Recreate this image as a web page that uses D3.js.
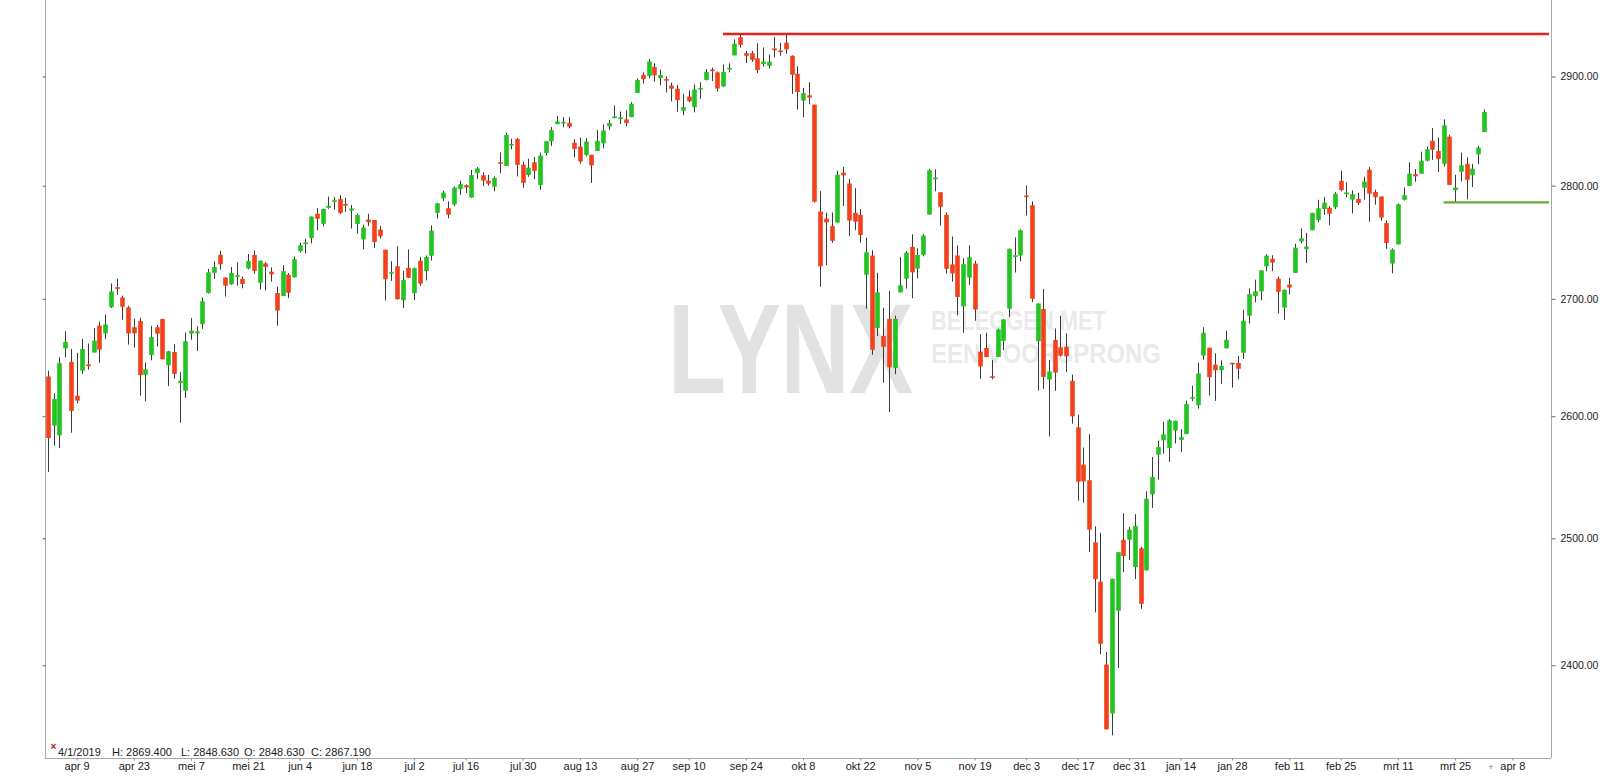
<!DOCTYPE html>
<html><head><meta charset="utf-8">
<script src="https://cdn.jsdelivr.net/npm/d3@7/dist/d3.min.js"></script>
<style>
html,body{margin:0;padding:0;background:#fff;}
svg{display:block;}
text{font-family:"Liberation Sans",Arial,sans-serif;}
</style></head><body>
<svg id="c" width="1600" height="776"></svg>
<script>
// ---- DATA ----
const dates = [
"2018-04-02","2018-04-03","2018-04-04","2018-04-05","2018-04-06","2018-04-09","2018-04-10","2018-04-11","2018-04-12","2018-04-13","2018-04-16","2018-04-17","2018-04-18","2018-04-19","2018-04-20","2018-04-23","2018-04-24","2018-04-25","2018-04-26","2018-04-27","2018-04-30",
"2018-05-01","2018-05-02","2018-05-03","2018-05-04","2018-05-07","2018-05-08","2018-05-09","2018-05-10","2018-05-11","2018-05-14","2018-05-15","2018-05-16","2018-05-17","2018-05-18","2018-05-21","2018-05-22","2018-05-23","2018-05-24","2018-05-25","2018-05-29","2018-05-30","2018-05-31",
"2018-06-01","2018-06-04","2018-06-05","2018-06-06","2018-06-07","2018-06-08","2018-06-11","2018-06-12","2018-06-13","2018-06-14","2018-06-15","2018-06-18","2018-06-19","2018-06-20","2018-06-21","2018-06-22","2018-06-25","2018-06-26","2018-06-27","2018-06-28","2018-06-29",
"2018-07-02","2018-07-03","2018-07-05","2018-07-06","2018-07-09","2018-07-10","2018-07-11","2018-07-12","2018-07-13","2018-07-16","2018-07-17","2018-07-18","2018-07-19","2018-07-20","2018-07-23","2018-07-24","2018-07-25","2018-07-26","2018-07-27","2018-07-30","2018-07-31",
"2018-08-01","2018-08-02","2018-08-03","2018-08-06","2018-08-07","2018-08-08","2018-08-09","2018-08-10","2018-08-13","2018-08-14","2018-08-15","2018-08-16","2018-08-17","2018-08-20","2018-08-21","2018-08-22","2018-08-23","2018-08-24","2018-08-27","2018-08-28","2018-08-29","2018-08-30","2018-08-31",
"2018-09-04","2018-09-05","2018-09-06","2018-09-07","2018-09-10","2018-09-11","2018-09-12","2018-09-13","2018-09-14","2018-09-17","2018-09-18","2018-09-19","2018-09-20","2018-09-21","2018-09-24","2018-09-25","2018-09-26","2018-09-27","2018-09-28",
"2018-10-01","2018-10-02","2018-10-03","2018-10-04","2018-10-05","2018-10-08","2018-10-09","2018-10-10","2018-10-11","2018-10-12","2018-10-15","2018-10-16","2018-10-17","2018-10-18","2018-10-19","2018-10-22","2018-10-23","2018-10-24","2018-10-25","2018-10-26","2018-10-29","2018-10-30","2018-10-31",
"2018-11-01","2018-11-02","2018-11-05","2018-11-06","2018-11-07","2018-11-08","2018-11-09","2018-11-12","2018-11-13","2018-11-14","2018-11-15","2018-11-16","2018-11-19","2018-11-20","2018-11-21","2018-11-23","2018-11-26","2018-11-27","2018-11-28","2018-11-29","2018-11-30",
"2018-12-03","2018-12-04","2018-12-06","2018-12-07","2018-12-10","2018-12-11","2018-12-12","2018-12-13","2018-12-14","2018-12-17","2018-12-18","2018-12-19","2018-12-20","2018-12-21","2018-12-24","2018-12-26","2018-12-27","2018-12-28","2018-12-31",
"2019-01-02","2019-01-03","2019-01-04","2019-01-07","2019-01-08","2019-01-09","2019-01-10","2019-01-11","2019-01-14","2019-01-15","2019-01-16","2019-01-17","2019-01-18","2019-01-22","2019-01-23","2019-01-24","2019-01-25","2019-01-28","2019-01-29","2019-01-30","2019-01-31",
"2019-02-01","2019-02-04","2019-02-05","2019-02-06","2019-02-07","2019-02-08","2019-02-11","2019-02-12","2019-02-13","2019-02-14","2019-02-15","2019-02-19","2019-02-20","2019-02-21","2019-02-22","2019-02-25","2019-02-26","2019-02-27","2019-02-28",
"2019-03-01","2019-03-04","2019-03-05","2019-03-06","2019-03-07","2019-03-08","2019-03-11","2019-03-12","2019-03-13","2019-03-14","2019-03-15","2019-03-18","2019-03-19","2019-03-20","2019-03-21","2019-03-22","2019-03-25","2019-03-26","2019-03-27","2019-03-28","2019-03-29",
"2019-04-01"];

const open = [
2633.45,2592.17,2584.04,2657.36,2645.82,2617.18,2638.41,2643.71,2653.83,2676.90,2670.10,2692.74,2710.11,2701.16,2692.56,2675.40,2680.80,2634.92,2651.65,2675.47,2682.51,
2642.96,2654.24,2628.08,2621.45,2670.00,2670.26,2678.12,2705.02,2722.70,2738.47,2718.59,2712.62,2719.71,2717.35,2726.50,2738.34,2713.98,2730.94,2723.60,2705.11,2702.43,2720.98,
2718.70,2741.67,2748.46,2753.25,2774.84,2765.84,2780.18,2785.60,2787.94,2783.21,2777.78,2765.79,2752.01,2769.73,2769.28,2760.79,2742.94,2722.12,2728.45,2698.69,2727.13,
2704.95,2733.27,2724.19,2737.68,2775.62,2788.56,2779.82,2783.14,2796.93,2800.50,2789.34,2811.35,2809.37,2804.55,2799.17,2820.68,2817.73,2836.80,2842.35,2819.00,2809.73,
2821.17,2800.48,2829.62,2840.29,2855.92,2856.79,2857.19,2838.90,2835.46,2827.88,2827.95,2831.44,2838.32,2853.93,2861.51,2860.99,2860.29,2862.35,2884.69,2901.45,2900.62,2908.94,2898.37,
2896.96,2891.59,2888.64,2868.26,2881.39,2871.57,2888.29,2896.85,2906.38,2903.83,2890.74,2906.60,2919.73,2936.76,2921.83,2921.75,2916.98,2911.65,2910.03,
2926.29,2923.80,2931.69,2919.35,2902.54,2877.53,2882.51,2873.90,2776.87,2770.54,2763.83,2767.05,2811.67,2802.00,2775.66,2773.94,2721.03,2737.87,2674.88,2667.86,2682.65,2640.68,2705.60,
2717.58,2745.45,2726.37,2738.40,2774.13,2806.38,2794.10,2773.93,2730.05,2737.90,2693.52,2718.54,2730.74,2654.60,2657.74,2633.36,2649.97,2663.75,2691.45,2736.97,2737.76,
2790.50,2782.43,2663.51,2691.26,2630.86,2664.44,2658.23,2658.70,2629.68,2590.75,2559.90,2547.05,2496.77,2465.38,2400.56,2363.12,2442.50,2498.77,2498.94,
2476.96,2491.92,2474.33,2535.61,2568.11,2580.00,2573.51,2588.11,2580.31,2585.10,2614.75,2609.28,2651.27,2657.88,2643.48,2638.84,2657.44,2644.97,2644.89,2653.62,2685.49,
2702.32,2706.49,2728.34,2735.05,2717.53,2692.36,2712.40,2722.61,2750.30,2743.50,2760.24,2769.28,2779.05,2780.24,2780.67,2804.35,2792.36,2787.50,2788.11,
2798.22,2814.37,2794.41,2790.27,2766.53,2730.79,2747.61,2787.34,2799.78,2810.38,2810.79,2822.61,2840.76,2831.34,2819.72,2844.52,2796.01,2812.66,2819.72,2809.40,2828.27,
2848.63];

const high = [
2638.30,2619.14,2649.86,2672.08,2656.88,2653.55,2665.45,2661.43,2674.72,2680.26,2686.49,2713.34,2717.49,2702.84,2693.94,2682.86,2683.55,2645.30,2676.48,2677.35,2682.87,
2655.27,2660.87,2637.14,2670.93,2683.35,2676.34,2701.27,2726.11,2732.86,2742.10,2718.59,2727.76,2731.96,2719.50,2739.19,2742.24,2733.33,2731.97,2727.36,2710.67,2729.34,2722.50,
2736.93,2749.16,2752.61,2772.39,2779.90,2779.39,2790.21,2789.80,2791.47,2789.06,2782.81,2774.99,2765.05,2774.86,2769.28,2764.17,2742.94,2732.91,2746.09,2724.34,2743.26,
2727.26,2736.58,2737.83,2764.41,2784.65,2795.58,2785.91,2799.22,2804.53,2801.19,2814.19,2816.76,2812.05,2809.70,2808.61,2829.99,2848.03,2842.66,2843.17,2821.74,2824.46,
2825.83,2829.91,2840.38,2853.29,2863.43,2862.44,2862.48,2842.20,2843.40,2843.11,2827.95,2850.49,2855.63,2859.76,2873.23,2867.54,2868.78,2876.16,2898.25,2903.77,2916.50,2912.46,2906.32,
2900.18,2894.21,2892.05,2883.81,2886.93,2892.52,2894.65,2906.76,2908.30,2904.65,2911.17,2912.36,2934.80,2940.91,2923.79,2923.95,2931.15,2927.22,2920.53,
2937.06,2931.42,2939.86,2919.78,2909.64,2889.45,2894.83,2874.02,2795.14,2775.77,2775.99,2813.46,2816.94,2806.04,2797.77,2778.94,2753.59,2742.59,2722.70,2692.38,2706.85,2685.43,2736.69,
2741.67,2756.55,2744.27,2756.82,2815.15,2814.75,2794.10,2775.99,2754.60,2746.80,2735.38,2746.75,2733.16,2669.44,2670.73,2647.55,2674.35,2682.53,2744.00,2753.75,2760.88,
2800.18,2785.93,2696.15,2708.54,2647.51,2674.35,2685.44,2670.19,2635.07,2601.13,2573.99,2585.29,2509.63,2504.41,2410.34,2467.76,2489.10,2520.27,2509.24,
2519.49,2493.14,2538.07,2566.16,2579.82,2595.32,2597.82,2596.27,2589.32,2613.08,2625.76,2645.06,2675.47,2657.88,2653.19,2647.20,2672.38,2644.97,2650.93,2690.44,2708.95,
2716.66,2724.99,2738.98,2738.08,2719.32,2708.07,2718.05,2748.19,2761.85,2757.90,2775.66,2787.33,2789.88,2781.58,2794.20,2813.49,2803.12,2795.76,2793.73,
2808.02,2816.88,2796.44,2790.27,2768.98,2744.13,2784.00,2798.32,2821.24,2815.00,2830.73,2835.41,2852.42,2843.54,2860.31,2846.16,2809.79,2829.87,2825.56,2819.71,2836.03,
2869.40];

const low = [
2553.80,2575.49,2573.61,2649.58,2586.27,2610.79,2635.78,2639.25,2653.83,2645.05,2665.16,2692.05,2703.63,2681.90,2660.61,2657.99,2617.32,2612.67,2647.16,2659.01,2648.04,
2625.41,2631.70,2594.62,2615.32,2664.70,2655.20,2674.14,2704.54,2717.45,2725.47,2701.91,2712.17,2711.36,2709.18,2725.70,2721.88,2707.98,2707.38,2714.99,2676.81,2702.43,2700.68,
2718.70,2740.54,2739.51,2748.46,2760.16,2763.59,2779.26,2778.78,2774.65,2776.52,2761.73,2757.12,2743.19,2763.91,2744.39,2752.68,2698.67,2715.60,2699.38,2691.99,2718.03,
2698.95,2711.16,2716.02,2733.52,2770.73,2786.24,2770.77,2781.53,2791.69,2793.39,2789.24,2805.89,2799.77,2800.01,2795.14,2811.12,2817.73,2832.91,2808.34,2798.11,2808.06,
2805.85,2796.34,2827.37,2835.98,2855.92,2853.09,2851.98,2825.81,2819.88,2826.58,2802.49,2831.44,2833.73,2850.62,2861.32,2856.05,2854.03,2862.35,2884.69,2893.50,2898.40,2895.22,2891.73,
2885.13,2876.92,2867.29,2864.12,2875.94,2866.78,2879.20,2896.39,2895.77,2886.16,2890.43,2903.82,2919.73,2927.11,2912.63,2913.70,2903.28,2909.27,2907.50,
2917.91,2919.37,2921.36,2883.92,2869.29,2862.08,2874.27,2784.86,2710.51,2729.44,2749.03,2766.91,2781.81,2755.18,2760.27,2749.22,2691.43,2651.89,2667.84,2628.16,2603.54,2635.34,2705.60,
2708.85,2700.44,2717.94,2737.08,2774.13,2794.99,2764.24,2722.00,2714.98,2685.75,2670.75,2712.16,2681.09,2631.52,2649.82,2631.09,2649.97,2655.89,2684.38,2722.94,2732.76,
2773.38,2697.18,2621.53,2623.14,2583.23,2621.30,2650.26,2637.27,2593.84,2530.54,2528.71,2488.96,2441.18,2408.55,2351.10,2346.58,2397.94,2472.89,2482.82,
2467.47,2443.96,2474.33,2524.56,2547.56,2568.89,2562.02,2577.40,2570.41,2585.10,2612.68,2606.36,2647.58,2617.27,2612.86,2627.01,2657.33,2624.06,2631.05,2648.34,2678.65,
2696.88,2698.75,2724.03,2724.15,2687.26,2681.83,2703.79,2722.61,2748.63,2731.23,2760.24,2767.29,2774.06,2764.55,2779.11,2794.99,2789.47,2775.13,2782.51,
2787.38,2767.66,2782.97,2768.69,2743.67,2722.27,2747.61,2786.73,2799.78,2803.46,2810.79,2821.99,2823.27,2812.43,2817.38,2800.47,2785.02,2803.99,2787.72,2798.77,2819.23,
2848.63];

const close = [
2581.88,2614.45,2644.69,2662.84,2604.47,2613.16,2656.87,2642.19,2663.99,2656.30,2677.84,2706.39,2708.64,2693.13,2670.14,2670.29,2634.56,2639.40,2666.94,2669.91,2648.05,
2654.80,2635.67,2629.73,2663.42,2672.63,2671.92,2697.79,2723.07,2727.72,2730.13,2711.45,2722.46,2720.13,2712.97,2733.01,2724.44,2733.29,2727.76,2721.33,2689.86,2724.01,2705.27,
2734.62,2746.87,2748.80,2772.35,2770.37,2779.03,2782.00,2786.85,2775.63,2782.49,2779.66,2773.75,2762.59,2767.32,2749.76,2754.88,2717.07,2723.06,2699.63,2716.31,2718.37,
2726.71,2713.22,2736.61,2759.82,2784.17,2793.84,2774.02,2798.29,2801.31,2798.43,2809.55,2815.62,2804.49,2801.83,2806.98,2820.40,2846.07,2837.44,2818.82,2802.60,2816.29,
2813.36,2827.22,2840.35,2850.40,2858.45,2857.70,2853.58,2833.28,2821.93,2839.96,2818.37,2840.69,2850.13,2857.05,2862.96,2861.82,2856.98,2874.69,2896.74,2897.52,2914.04,2901.13,2901.52,
2896.72,2888.60,2878.05,2871.68,2877.13,2887.89,2888.92,2904.18,2904.98,2888.80,2904.31,2907.95,2930.75,2929.67,2919.37,2915.56,2905.97,2914.00,2913.98,
2924.59,2923.43,2925.51,2901.61,2885.57,2884.43,2880.34,2785.68,2728.37,2767.13,2750.79,2809.92,2809.21,2768.78,2767.78,2755.88,2740.69,2656.10,2705.57,2658.69,2641.25,2682.63,2711.74,
2740.37,2723.06,2738.31,2755.45,2813.89,2806.83,2781.01,2726.22,2722.18,2701.58,2730.20,2736.27,2690.73,2641.89,2649.93,2632.56,2673.45,2682.17,2743.79,2737.80,2760.17,
2790.37,2700.06,2695.95,2633.08,2637.72,2636.78,2651.07,2650.54,2599.95,2545.94,2546.16,2506.96,2467.42,2416.62,2351.10,2467.70,2488.83,2485.74,2506.85,
2510.03,2447.89,2531.94,2549.69,2574.41,2584.96,2596.64,2596.26,2582.61,2610.30,2616.10,2635.96,2670.71,2632.90,2638.70,2642.33,2664.76,2643.85,2640.00,2681.05,2704.10,
2706.53,2724.87,2737.70,2731.61,2706.05,2707.88,2709.80,2744.73,2753.03,2745.73,2775.60,2779.76,2784.70,2774.88,2792.67,2796.11,2793.90,2792.38,2784.49,
2803.69,2792.81,2789.65,2771.45,2748.93,2743.07,2783.30,2791.52,2810.92,2808.48,2822.48,2832.94,2832.57,2824.23,2854.88,2800.71,2798.36,2818.46,2805.37,2815.44,2834.40,
2867.19];

const priceTicks = [2400, 2500, 2600, 2700, 2800, 2900];
const dateTickDates = ["2018-04-09","2018-04-23","2018-05-07","2018-05-21","2018-06-04","2018-06-18","2018-07-02","2018-07-16","2018-07-30","2018-08-13","2018-08-27","2018-09-10","2018-09-24","2018-10-08","2018-10-22","2018-11-05","2018-11-19","2018-12-03","2018-12-17","2018-12-31","2019-01-14","2019-01-28","2019-02-11","2019-02-25","2019-03-11","2019-03-25","2019-04-08"];
const dateTickLabels = ["apr 9","apr 23","mei 7","mei 21","jun 4","jun 18","jul 2","jul 16","jul 30","aug 13","aug 27","sep 10","sep 24","okt 8","okt 22","nov 5","nov 19","dec 3","dec 17","dec 31","jan 14","jan 28","feb 11","feb 25","mrt 11","mrt 25","apr 8"];
const resistanceLevel = 2940, resistanceFrom = "2018-09-18";
const supportLevel = 2785, supportFrom = "2019-03-21";

// ---- CHART ----
const svg = d3.select("#c");
const P = {left: 45, right: 1551, top: 0, bottom: 758};
const x = d3.scaleLinear().domain([0, dates.length - 1]).range([48, 1483.7]);
const y = d3.scaleLog().domain([2400, 2900]).range([665.3, 76.5]);

function idxOf(ds) {
  let k = dates.indexOf(ds);
  if (k >= 0) return k;
  let d = new Date(dates[dates.length - 1] + "T12:00:00Z"), t = new Date(ds + "T12:00:00Z");
  k = dates.length - 1;
  while (d < t) { d = new Date(d.getTime() + 864e5); const wd = d.getUTCDay(); if (wd !== 0 && wd !== 6) k++; }
  return k;
}

// watermark (scaled horizontally to the narrow look of the logo)
const wm = svg.append("g").style("font-family", "'Liberation Sans Narrow','DejaVu Sans Condensed',Arial,sans-serif").style("font-weight", "bold");
function wmText(str, px, py, size, width, fill) {
  const t = wm.append("text").attr("x", 0).attr("y", 0).attr("font-size", size).attr("fill", fill).text(str);
  const w = t.node().getComputedTextLength();
  t.attr("transform", `translate(${px},${py}) scale(${width / w},1)`);
}
wmText("LYNX", 668, 393, 128, 245, "#e2e2e2");
wmText("BELEGGEN MET", 931, 330, 28, 175, "#eaeaea");
wmText("EEN VOORSPRONG", 931, 363, 28, 230, "#eaeaea");

// frame lines
svg.append("line").attr("x1", P.left + 0.5).attr("x2", P.left + 0.5).attr("y1", 0).attr("y2", P.bottom).attr("stroke", "#a8a8a8");
svg.append("line").attr("x1", P.left).attr("x2", P.right).attr("y1", P.bottom + 0.5).attr("y2", P.bottom + 0.5).attr("stroke", "#a8a8a8");

// right axis
const ra = svg.append("g").attr("transform", `translate(${P.right + 0.5},0)`)
  .call(d3.axisRight(y).tickValues(priceTicks).tickFormat(d3.format(".2f")).tickSize(4).tickPadding(5));
ra.select(".domain").attr("stroke", "#a8a8a8").attr("d", `M0,0V${P.bottom}`);
ra.selectAll(".tick line").attr("stroke", "#666");
ra.selectAll(".tick text").attr("fill", "#222").style("font-size", "10.5px").style("font-family", "'Liberation Sans',Arial,sans-serif");

// left small ticks
const la = svg.append("g").attr("transform", `translate(${P.left + 0.5},0)`)
  .call(d3.axisLeft(y).tickValues(priceTicks).tickFormat("").tickSize(3));
la.select(".domain").remove();
la.selectAll(".tick line").attr("stroke", "#666");

// bottom axis
const ba = svg.append("g").attr("transform", `translate(0,${P.bottom + 0.5})`)
  .call(d3.axisBottom(x).tickValues(dateTickDates.map(idxOf)).tickFormat((d, i) => dateTickLabels[i]).tickSize(2).tickPadding(2));
ba.select(".domain").remove();
ba.selectAll(".tick line").attr("stroke", "#888");
ba.selectAll(".tick text").attr("fill", "#222").style("font-size", "11px").style("font-family", "'Liberation Sans',Arial,sans-serif");

// candles
const bars = dates.map((d, i) => ({i, o: open[i], h: high[i], l: low[i], c: close[i]}));
const cg = svg.append("g");
cg.selectAll("line.w").data(bars).join("line").attr("class", "w")
  .attr("x1", d => Math.round(x(d.i)) + 0.5).attr("x2", d => Math.round(x(d.i)) + 0.5)
  .attr("y1", d => y(d.h)).attr("y2", d => y(d.l))
  .attr("stroke", "#3a3a3a").attr("stroke-width", 1);
cg.selectAll("rect.b").data(bars).join("rect").attr("class", "b")
  .attr("x", d => Math.round(x(d.i)) + 0.5 - 2.3).attr("width", 4.6)
  .attr("y", d => { const t = y(Math.max(d.o, d.c)), b = y(Math.min(d.o, d.c)); return b - t < 1.6 ? (t + b) / 2 - 0.8 : t; })
  .attr("height", d => Math.max(1.6, y(Math.min(d.o, d.c)) - y(Math.max(d.o, d.c))))
  .attr("fill", d => d.c >= d.o ? "#22c322" : "#f2411c");

// resistance and support lines
svg.append("line").attr("x1", x(idxOf(resistanceFrom))).attr("x2", P.right - 2)
  .attr("y1", y(resistanceLevel)).attr("y2", y(resistanceLevel)).attr("stroke", "#e8201c").attr("stroke-width", 2.5);
svg.append("line").attr("x1", x(idxOf(supportFrom))).attr("x2", P.right - 2)
  .attr("y1", y(supportLevel)).attr("y2", y(supportLevel)).attr("stroke", "#66a832").attr("stroke-width", 2.2);

// marker before the future date label
const futureIdx = idxOf(dateTickDates[dateTickDates.length - 1]);
svg.append("text").attr("x", (x(dates.length - 1) + x(futureIdx)) / 2 - 7).attr("y", 770).attr("font-size", 9).attr("fill", "#777").attr("text-anchor", "middle").text("+");

// info line for last bar
const L = dates.length - 1;
const [yy, mm, dd] = dates[L].split("-").map(Number);
const info = [`${mm}/${dd}/${yy}`, `H: ${high[L].toFixed(3)}`, `L: ${low[L].toFixed(3)}`, `O: ${open[L].toFixed(3)}`, `C: ${close[L].toFixed(3)}`];
const infoX = [58, 112, 181, 244, 311];
svg.append("text").attr("x", 50.5).attr("y", 750).attr("font-size", 10).attr("font-weight", "bold").attr("fill", "#a01818").text("×");
svg.append("g").selectAll("text").data(info).join("text")
  .attr("x", (d, i) => infoX[i]).attr("y", 756).attr("font-size", 11).attr("fill", "#222").text(d => d);
</script>
</body></html>
